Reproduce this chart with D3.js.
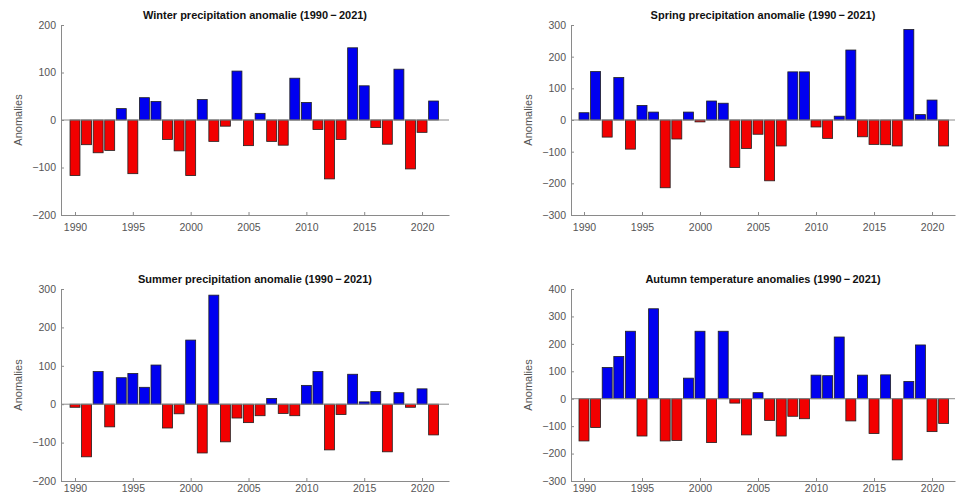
<!DOCTYPE html>
<html><head><meta charset="utf-8">
<script src="https://cdn.jsdelivr.net/npm/d3@7"></script>
<style>
html,body{margin:0;padding:0;background:#fff;}
text{font-family:"Liberation Sans",Arial,Helvetica,sans-serif;}
</style>
</head><body>
<svg id="chart" width="956" height="497"></svg>
<script>
const years = d3.range(1990, 2022);
const winter = [-117,-52,-69,-64,24,-113,47,39,-41,-65,-117,43,-45,-13,103,-54,14,-45,-53,88,37,-20,-124,-41,152,72,-16,-51,107,-103,-26,40];
const spring = [23,153,-54,134,-92,46,25,-214,-60,25,-6,60,53,-150,-90,-45,-192,-82,152,152,-22,-58,12,221,-53,-77,-78,-82,286,17,63,-82];
const summer = [-8,-137,85,-59,69,80,44,102,-62,-25,167,-127,284,-98,-36,-48,-30,15,-24,-30,49,85,-119,-27,78,6,33,-124,30,-8,40,-80];
const autumn = [-154,-105,114,154,246,-136,328,-154,-152,75,246,-160,246,-16,-132,22,-79,-136,-64,-73,86,84,225,-81,86,-127,87,-223,63,196,-120,-90];
const xTicks = [1990,1995,2000,2005,2010,2015,2020];
const winterTicks = [-200,-100,0,100,200];
const springTicks = [-300,-200,-100,0,100,200,300];
const summerTicks = [-200,-100,0,100,200,300];
const autumnTicks = [-300,-200,-100,0,100,200,300,400];

const span = "(1990\u2009\u2212\u20092021)";
const panels = [
  {title:"Winter precipitation anomalie " + span, vals:winter, ticks:winterTicks, x0:61, x1:449, xd:[1988.79,2022.33], y0:25, y1:215, pad:9},
  {title:"Spring precipitation anomalie " + span, vals:spring, ticks:springTicks, x0:571, x1:955, xd:[1988.88,2021.98], y0:25, y1:215, pad:9},
  {title:"Summer precipitation anomalie " + span, vals:summer, ticks:summerTicks, x0:61, x1:449, xd:[1988.79,2022.33], y0:289, y1:481, pad:4},
  {title:"Autumn temperature anomalies " + span, vals:autumn, ticks:autumnTicks, x0:571, x1:955, xd:[1988.88,2021.98], y0:289, y1:481, pad:4}
];

const svg = d3.select("#chart");
const axisCol = "#8a8a8a", textCol = "#555";

panels.forEach(p => {
  const g = svg.append("g");
  const x = d3.scaleLinear().domain(p.xd).range([p.x0, p.x1]);
  const y = d3.scaleLinear().domain([p.ticks[0], p.ticks[p.ticks.length-1]]).range([p.y1, p.y0]);
  const bw = (x(1) - x(0)) * 0.86;

  g.selectAll("rect").data(years).join("rect")
    .attr("x", d => x(d) - bw/2)
    .attr("width", bw)
    .attr("y", (d,i) => y(Math.max(0, p.vals[i])))
    .attr("height", (d,i) => Math.abs(y(p.vals[i]) - y(0)))
    .attr("fill", (d,i) => p.vals[i] >= 0 ? "#0000f0" : "#f20000")
    .attr("stroke", "#202020").attr("stroke-width", 0.8);

  g.append("line").attr("x1", p.x0).attr("x2", p.x1).attr("y1", y(0)).attr("y2", y(0))
    .attr("stroke", axisCol).attr("stroke-width", 1);

  const xa = g.append("g").attr("transform", `translate(0,${p.y1})`)
    .call(d3.axisBottom(x).tickValues(xTicks).tickFormat(d3.format("d")).tickSize(-3).tickSizeOuter(0).tickPadding(p.pad));
  const ya = g.append("g").attr("transform", `translate(${p.x0},0)`)
    .call(d3.axisLeft(y).tickValues(p.ticks).tickFormat(d => d < 0 ? "\u2212" + Math.abs(d) : d).tickSize(-3).tickSizeOuter(0).tickPadding(5));
  [xa, ya].forEach(a => {
    a.select(".domain").attr("stroke", axisCol);
    a.selectAll(".tick line").attr("stroke", axisCol);
    a.selectAll(".tick text").attr("fill", textCol).style("font-size", "10.5px");
  });

  g.append("text").attr("x", (p.x0 + p.x1)/2).attr("y", p.y0 - 6)
    .attr("text-anchor", "middle").style("font-size", "11px").style("font-weight", "bold")
    .attr("fill", "#111").text(p.title);

  g.append("text").attr("transform", `translate(${p.x0 - 39},${(p.y0 + p.y1)/2}) rotate(-90)`)
    .attr("text-anchor", "middle").style("font-size", "11px").attr("fill", textCol).text("Anomalies");
});
</script>
</body></html>
